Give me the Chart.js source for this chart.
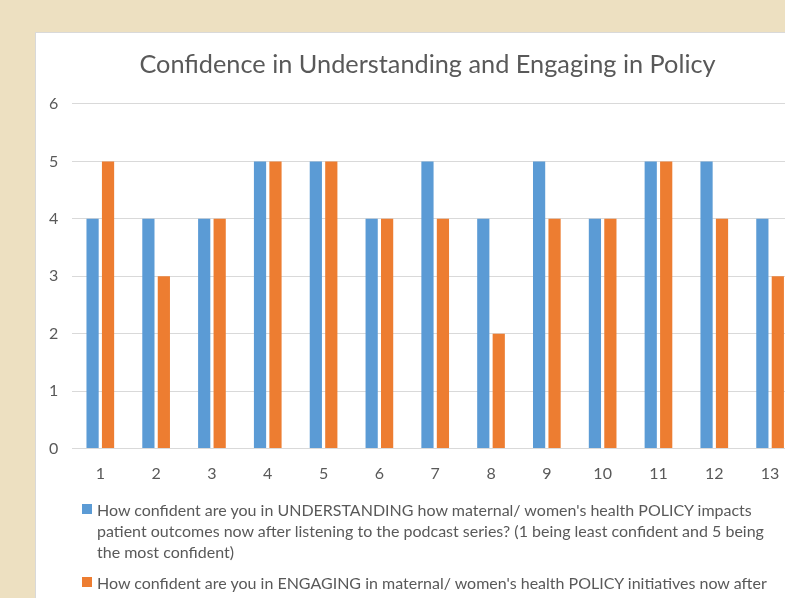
<!DOCTYPE html>
<html>
<head>
<meta charset="utf-8">
<script src="https://cdn.jsdelivr.net/npm/chart.js@4/dist/chart.umd.min.js"></script>
<style>
  html, body { margin: 0; padding: 0; }
  body {
    width: 785px; height: 598px; overflow: hidden; position: relative;
    background: #ede0c1; font-family: Lato, "Open Sans", sans-serif;
  }
  #panel {
    position: absolute; left: 35px; top: 32px; width: 800px; height: 600px;
    background: #fff; border-top: 1px solid #d9d9d9; border-left: 1px solid #d9d9d9;
    box-sizing: border-box;
  }
  #chartBox { position: absolute; left: -1px; top: -1px; width: 785px; height: 470px; }
  #legend { position: absolute; left: 46px; top: 466px; width: 760px; color: #595959; font-size: 16px; line-height: 21.2px; }
  .item { position: relative; padding-left: 15px; white-space: nowrap; margin-bottom: 9px; }
  .swatch { position: absolute; left: 0; top: 5px; width: 10px; height: 10px; }
</style>
</head>
<body>
<div id="panel">
  <div id="chartBox"><canvas id="chart"></canvas></div>
  <div id="legend"></div>
</div>
<script>
// Datos
const categories = ['1', '2', '3', '4', '5', '6', '7', '8', '9', '10', '11', '12', '13'];
const understanding = [4, 4, 4, 5, 5, 4, 5, 4, 5, 4, 5, 5, 4];
const engaging = [5, 3, 4, 5, 5, 4, 4, 2, 4, 4, 5, 4, 3];
const yTicks = [0, 1, 2, 3, 4, 5, 6];
const seriesLabels = [
  ['How confident are you in UNDERSTANDING how maternal/ women\'s health POLICY impacts',
   'patient outcomes now after listening to the podcast series? (1 being least confident and 5 being',
   'the most confident)'],
  ['How confident are you in ENGAGING in maternal/ women\'s health POLICY initiatives now after']
];
const colors = ['#5b9bd5', '#ed7d31'];
const textColor = '#595959';

function buildLegend() {
  const legend = document.getElementById('legend');
  seriesLabels.forEach((lines, i) => {
    const item = document.createElement('div');
    item.className = 'item';
    const swatch = document.createElement('span');
    swatch.className = 'swatch';
    swatch.style.background = colors[i];
    item.appendChild(swatch);
    lines.forEach((line, j) => {
      if (j > 0) item.appendChild(document.createElement('br'));
      item.appendChild(document.createTextNode(line));
    });
    legend.appendChild(item);
  });
}

// el panel original es mas ancho que la ventana: centrar el titulo sobre el panel completo
const titleShift = {
  id: 'titleShift',
  afterLayout(chart) {
    if (chart.titleBlock) {
      chart.titleBlock.left += 11;
      chart.titleBlock.right += 11;
    }
  }
};

function initChart() {
  const ctx = document.getElementById('chart');
  new Chart(ctx, {
    type: 'bar',
    data: {
      labels: categories,
      datasets: [
        { label: seriesLabels[0].join(' '), data: understanding, backgroundColor: colors[0] },
        { label: seriesLabels[1].join(' '), data: engaging, backgroundColor: colors[1] }
      ]
    },
    options: {
      responsive: true,
      maintainAspectRatio: false,
      animation: false,
      categoryPercentage: 0.554,
      barPercentage: 0.79,
      layout: { padding: { left: 0, right: 22, top: 0, bottom: 0 } },
      plugins: {
        legend: { display: false },
        tooltip: { enabled: false },
        title: {
          display: true,
          text: 'Confidence in Understanding and Engaging in Policy',
          color: textColor,
          font: { family: 'Lato', size: 25.3, weight: 'normal', lineHeight: 1.2 },
          padding: { top: 17.3, bottom: 24.3 }
        }
      },
      scales: {
        x: {
          grid: { display: false, drawTicks: false },
          border: { display: false },
          ticks: { color: textColor, font: { family: 'Lato', size: 16 }, padding: 16 },
          afterFit: (scale) => { scale.height = 53.5; }
        },
        y: {
          min: 0,
          max: 6,
          afterBuildTicks: (scale) => { scale.ticks = yTicks.map((v) => ({ value: v })); },
          grid: { color: '#d9d9d9', lineWidth: 1, drawTicks: false },
          border: { display: false },
          ticks: { color: textColor, font: { family: 'Lato', size: 16 }, padding: 14 },
          afterFit: (scale) => { scale.width = 37.4; }
        }
      }
    },
    plugins: [titleShift]
  });
}

buildLegend();
initChart();
</script>
</body>
</html>
